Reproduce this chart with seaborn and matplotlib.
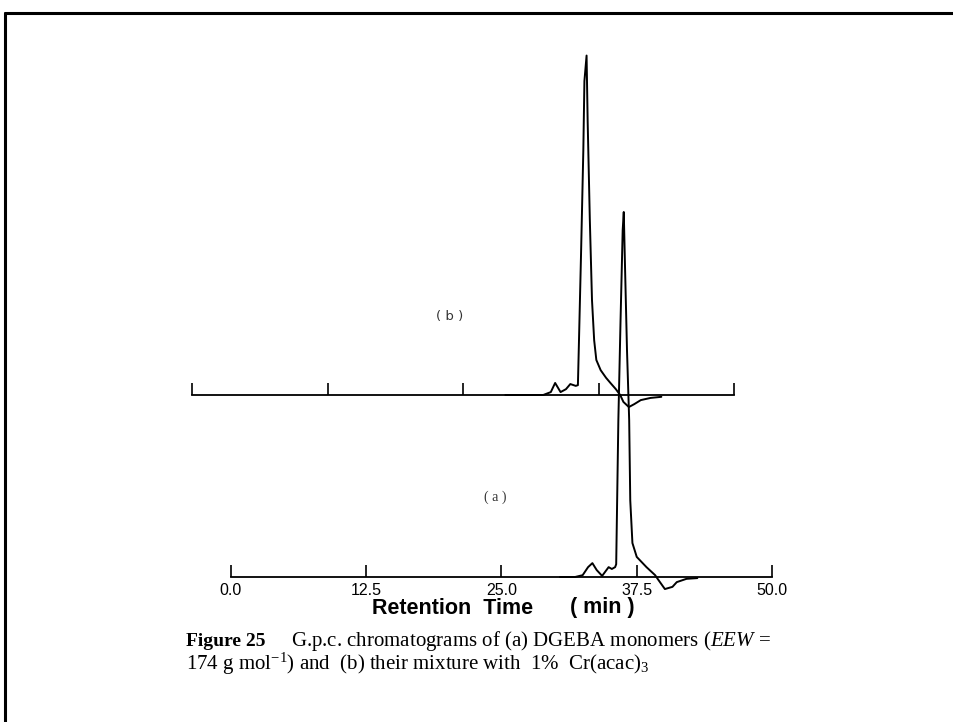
import matplotlib
matplotlib.use("Agg")
import matplotlib.pyplot as plt
from matplotlib.lines import Line2D
import seaborn as sns
import pandas as pd

# G.p.c. traces: retention time (min) and detector response (arb. units)
time_a = [30.4, 31.8, 32.5, 33.0, 33.4, 33.8, 34.3, 34.7, 34.9, 35.2, 35.5,
          35.6, 35.8, 36.0, 36.2, 36.3, 36.4, 36.6, 36.8, 36.9, 37.1, 37.5,
          38.4, 39.2, 39.5, 40.1, 40.8, 41.2, 42.1, 43.1]
resp_a = [0.0, 0.0, 0.5, 2.7, 3.8, 1.9, 0.3, 1.9, 2.7, 2.2, 2.7,
          3.5, 43.0, 70.0, 95.0, 100.0, 87.0, 62.0, 43.0, 21.0, 9.3, 5.5,
          2.7, 0.5, -0.8, -3.3, -2.7, -1.4, -0.5, -0.3]

time_b = [28.9, 32.4, 33.1, 33.5, 34.0, 34.5, 34.9, 35.4, 35.6, 35.7, 35.9,
          36.1, 36.2, 36.4, 36.5, 36.7, 36.9, 37.1, 37.3, 37.7, 38.2, 38.6,
          39.1, 39.5, 39.8, 40.3, 40.8, 41.4, 42.3, 43.3]
resp_b = [0.0, 0.0, 0.8, 3.3, 0.8, 1.6, 3.0, 2.5, 2.7, 15.0, 40.0,
          67.0, 86.0, 93.0, 75.0, 48.0, 26.0, 15.0, 9.6, 6.8, 4.7, 3.3,
          1.6, 0.0, -1.9, -3.3, -2.5, -1.4, -0.8, -0.5]

tick_values = [0.0, 12.5, 25.0, 37.5, 50.0]
tick_labels = ["0.0", "12.5", "25.0", "37.5", "50.0"]

sns.set_theme(style="white")
plt.rcParams["font.family"] = ["DejaVu Sans"]
plt.rcParams["text.color"] = "black"
plt.rcParams["xtick.color"] = "black"
plt.rcParams["mathtext.fontset"] = "custom"
plt.rcParams["mathtext.rm"] = "Liberation Serif"
plt.rcParams["mathtext.it"] = "Liberation Serif:italic"

W, H = 954, 722
fig = plt.figure(figsize=(W / 100, H / 100), dpi=100)
fig.patch.set_facecolor("white")

PX_PER_UNIT = 3.65
YLIM = (-10, 110)


def trace_axes(x0, x1, base_px):
    """Axes whose 0-50 min span runs from pixel x0 to x1, zero response at base_px (from top)."""
    ymin, ymax = YLIM
    bottom = (H - base_px) + ymin * PX_PER_UNIT
    height = (ymax - ymin) * PX_PER_UNIT
    ax = fig.add_axes([x0 / W, bottom / H, (x1 - x0) / W, height / H])
    ax.set_xlim(0, 50)
    ax.set_ylim(*YLIM)
    ax.patch.set_alpha(0)
    for side in ("top", "left", "right"):
        ax.spines[side].set_visible(False)
    ax.spines["bottom"].set_position(("data", 0))
    ax.spines["bottom"].set_bounds(0, 50)
    ax.spines["bottom"].set_linewidth(1.3)
    ax.spines["bottom"].set_color("black")
    ax.set_yticks([])
    ax.set_xticks(tick_values)
    ax.tick_params(axis="x", bottom=True, direction="in", length=9, width=1.2,
                   color="black", labelcolor="black")
    return ax


ax_a = trace_axes(231, 772, 577)
ax_b = trace_axes(192, 734, 395)

df_a = pd.DataFrame({"time": time_a, "resp": resp_a})
df_b = pd.DataFrame({"time": time_b, "resp": resp_b})
sns.lineplot(data=df_a, x="time", y="resp", ax=ax_a, color="black",
             linewidth=1.4, estimator=None, sort=False)
sns.lineplot(data=df_b, x="time", y="resp", ax=ax_b, color="black",
             linewidth=1.4, estimator=None, sort=False)

ax_a.set_xticklabels(tick_labels, fontsize=11.5, family="Liberation Sans")
ax_a.tick_params(axis="x", pad=4)
ax_b.set_xticklabels([])
for ax in (ax_a, ax_b):
    ax.set_xlabel("")
    ax.set_ylabel("")

# axis title under the lower trace
fig.text(372 / W, 1 - 608 / H, "Retention  Time", ha="left", va="center",
         fontsize=15.5, fontweight="bold", family="Liberation Sans")
fig.text(570 / W, 1 - 608 / H, "( min )", ha="left", va="center",
         fontsize=15.5, fontweight="bold", family="Liberation Sans")

fig.text(450 / W, 1 - 316 / H, "( b )", ha="center", va="center",
         fontsize=9.5, color="#333333")
fig.text(495 / W, 1 - 497 / H, "( a )", ha="center", va="center",
         fontsize=10, color="#333333", family="Liberation Serif")

# caption
fig.text(186 / W, 1 - 646 / H, "Figure 25", ha="left", va="baseline",
         fontsize=14, fontweight="bold", family="Liberation Serif")
fig.text(291 / W, 1 - 646 / H,
         r"G.p.c. chromatograms of (a) DGEBA monomers ($\mathit{EEW}$ =",
         ha="left", va="baseline", fontsize=15, family="Liberation Serif")
fig.text(186 / W, 1 - 670 / H,
         r"174 g mol$^{-1}$) and  (b) their mixture with  1%  Cr(acac)$_3$",
         ha="left", va="baseline", fontsize=15, family="Liberation Serif")

# page frame (top and left edges)
fig.add_artist(Line2D([5 / W, 1.0], [1 - 12.5 / H, 1 - 12.5 / H],
                      transform=fig.transFigure, color="black", linewidth=2.2))
fig.add_artist(Line2D([5 / W, 5 / W], [0.0, 1 - 12.5 / H],
                      transform=fig.transFigure, color="black", linewidth=2.2))

fig.savefig("out.png", dpi=100, facecolor="white")
